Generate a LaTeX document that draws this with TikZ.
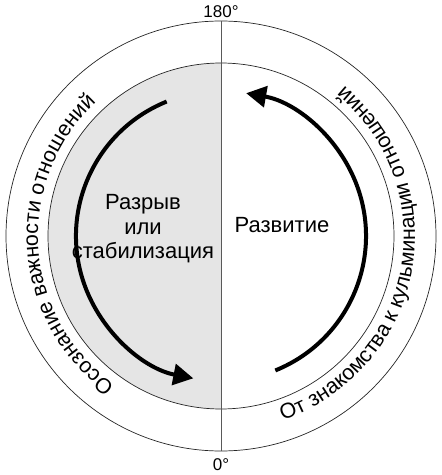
\documentclass[tikz,border=0pt]{standalone}
\usepackage{fontspec}
\setmainfont{Liberation Sans}
\usetikzlibrary{decorations.text,arrows.meta}
\begin{document}
\begin{tikzpicture}[x=1pt,y=1pt,
  ring/.style={draw=black!85,line width=0.7pt},
  axisline/.style={draw=black!65,line width=0.6pt},
  bigarrow/.style={line width=4pt,-{Triangle[length=20pt,width=21pt]}},
  lbl/.style={font=\fontsize{22}{24.5}\selectfont,align=center,inner sep=0pt},
  deg/.style={font=\fontsize{17}{18}\selectfont,inner sep=0pt}]
\useasboundingbox (-221,-239) rectangle (221,236);
\coordinate (O) at (0,0);
\fill[gray!20] (0,173) arc[start angle=90,end angle=270,radius=173] -- cycle;
\draw[ring] (O) circle[radius=215];
\draw[ring] (O) circle[radius=173];
\coordinate (top) at (0,215);
\coordinate (bot) at (0,-215);
\draw[axisline] (top) -- (bot);
\draw[bigarrow] (112:145) arc[start angle=112,end angle=259,radius=145];
\draw[bigarrow] (-68:145) arc[start angle=-68,end angle=80,radius=145];
\node[lbl] (break) at (-78,7) {Разрыв\\или\\стабилизация};
\node[lbl] (dev) at (61,11) {Развитие};
\node[deg] (t180) at (0,224) {180°};
\node[deg] (t0) at (0,-229) {0°};
\path[decorate, decoration={text along path, text align=center,
  text={|\fontsize{21.4}{22}\selectfont|Осознание важности отношений}}]
  (236.7:183) arc[start angle=236.7,end angle=130.7,radius=183];
\path[decorate, decoration={text along path, text align=center,
  text={|\fontsize{21.4}{22}\selectfont|От знакомства к кульминации отношений}}]
  (-82:194) arc[start angle=-82,end angle=61.2,radius=194];
\end{tikzpicture}
\end{document}
